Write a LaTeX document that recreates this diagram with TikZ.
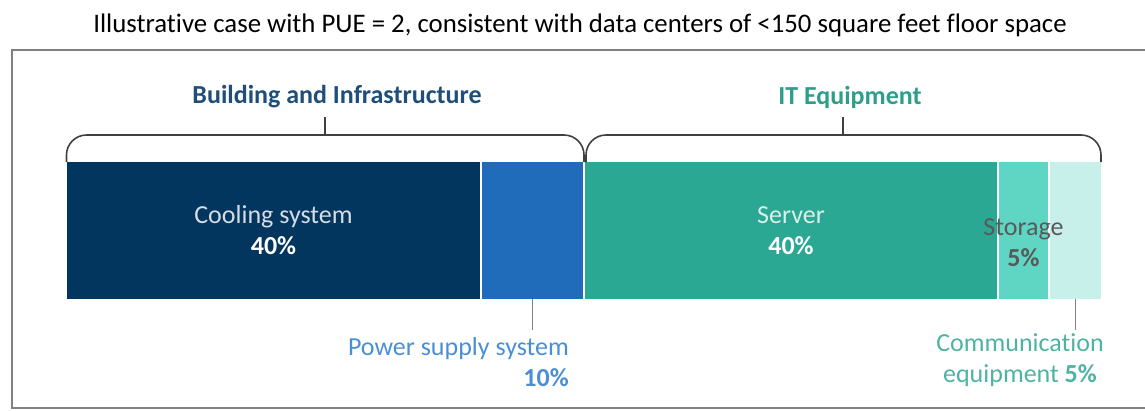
\documentclass[tikz,border=0pt]{standalone}
\usepackage{fontspec}
\setmainfont{Carlito}[Ligatures=NoCommon]
\usetikzlibrary{positioning,calc}

\definecolor{coolblue}{RGB}{3,54,95}
\definecolor{powerblue}{RGB}{32,108,187}
\definecolor{serverteal}{RGB}{42,168,147}
\definecolor{storageteal}{RGB}{94,214,195}
\definecolor{commteal}{RGB}{199,240,234}
\definecolor{bldgtext}{RGB}{31,78,121}
\definecolor{ittext}{RGB}{46,158,138}
\definecolor{powertext}{RGB}{74,143,214}
\definecolor{commtext}{RGB}{77,179,163}
\definecolor{cooltext}{RGB}{213,220,229}
\definecolor{servertext}{RGB}{217,239,234}

\begin{document}
\begin{tikzpicture}[x=1pt, y=-1pt,
bar/.style={rectangle, inner sep=0pt, outer sep=0pt, minimum height=137pt, align=center, font=\fontsize{26}{31}\selectfont},
label/.style={inner sep=0pt, align=center, font=\fontsize{26}{31}\selectfont},
head/.style={inner sep=0pt, font=\fontsize{26}{31}\selectfont\bfseries},
brace/.style={draw=black!75, line width=1.6pt, rounded corners=20pt},
leader/.style={draw=black!50, line width=1.5pt},
]
\useasboundingbox (0,0) rectangle (1145,410);

%Nodes
\node[inner sep=0pt, font=\fontsize{26.8}{31}\selectfont] (title) at (580,25) {Illustrative case with PUE = 2, consistent with data centers of <150 square feet floor space};
\node[bar, fill=coolblue, minimum width=413pt, anchor=north west, text=cooltext] (cooling) at (67,162) {Cooling system\\\textcolor{white}{\bfseries 40\%}};
\node[bar, fill=powerblue, minimum width=101pt] (power) [right=2pt of cooling] {};
\node[bar, fill=serverteal, minimum width=412pt, text=servertext] (server) [right=2pt of power] {Server\\\textcolor{white}{\bfseries 40\%}};
\node[bar, fill=storageteal, minimum width=49pt] (storage) [right=2pt of server] {};
\node[bar, fill=commteal, minimum width=51pt] (comm) [right=2pt of storage] {};
\node[label, text=black!65] (storagelbl) at ([yshift=-12pt]storage.center) {Storage\\{\bfseries 5\%}};

\node[head, text=bldgtext] (bldg) at (337,97) {Building and Infrastructure};
\node[head, text=ittext] (it) at (850,97) {IT Equipment};

\node[label, text=powertext, anchor=north east, align=right] (powerlbl) at (569,337) {Power supply system\\{\bfseries 10\%}};
\node[label, text=commtext, anchor=north] (commlbl) at (1020,333) {Communication\\equipment {\bfseries 5\%}};

\coordinate (bldgmid) at ($(cooling.north west)!.5!(power.north east)+(0,-27)$);
\coordinate (itmid) at ($(server.north west)!.5!(comm.north east)+(0,-27)$);

%Lines
\draw[line width=1.5pt, draw=black!50] (1150,50) -| (12,408) -- (1150,408);
\draw[brace] ([xshift=-0.5pt]cooling.north west) -- ++(0,-27) -| ([xshift=1pt]power.north east);
\draw[brace] ([xshift=1pt]server.north west) -- ++(0,-27) -| (comm.north east);
\draw[brace] (bldgmid) -- ++(0,-18);
\draw[brace] (itmid) -- ++(0,-18);
\draw[leader] (power.south) -- ++(0,31);
\draw[leader] (comm.south) -- ++(0,31);

\end{tikzpicture}
\end{document}
